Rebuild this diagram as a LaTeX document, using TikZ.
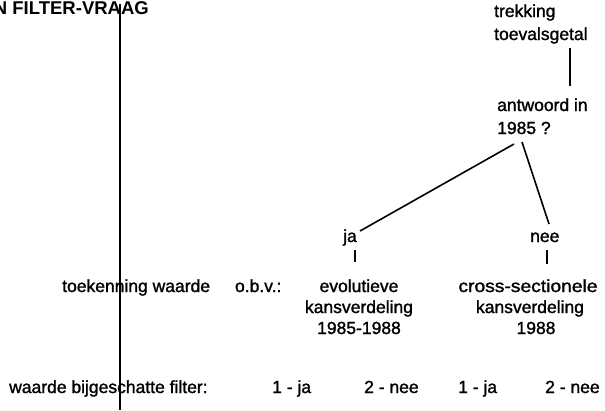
\documentclass[tikz,border=0pt]{standalone}
\usepackage{fontspec}
\setmainfont{Liberation Sans}[RawFeature={embolden=1.4}]
\newfontfamily\titlefont{Liberation Sans Bold}
\begin{document}
\begin{tikzpicture}[x=1pt,y=-1pt,
  txt/.style={inner sep=0pt,font=\fontsize{17.5}{22}\selectfont},
  ttl/.style={inner sep=0pt,font=\fontsize{18.5}{22}\titlefont},
  ln/.style={line width=1.6pt},
  tick/.style={line width=1.9pt}]
\useasboundingbox (0,0) rectangle (605,410);
\clip (0,0) rectangle (605,410);
% title and separator
\node[ttl,anchor=base east] (title) at (149,14) {N FILTER-VRAAG};
\coordinate (sepTop) at (120,4);
\coordinate (sepBot) at (120,410);
\draw[ln] (sepTop) -- (sepBot);
% top of the tree
\node[txt,anchor=base west] (trek) at (494,17) {trekking};
\node[txt,anchor=base west] (toev) at (494,40) {toevalsgetal};
\node[txt,anchor=base west] (antw) at (497,111) {antwoord in};
\node[txt,anchor=base west] (jaar) at (497,134) {1985 ?};
\coordinate (v1) at (570,48);
\coordinate (v2) at (570,86);
\draw[ln] (v1) -- (v2);
% branches
\node[txt,anchor=base west] (ja) at (343,242) {ja};
\node[txt,anchor=base west] (nee) at (530,242) {nee};
\coordinate (b1) at (514,144);
\coordinate (b2) at (522,142);
\coordinate (jaend) at (360,231);
\coordinate (neeend) at (549,224);
\draw[ln] (b1) -- (jaend);
\draw[ln] (b2) -- (neeend);
\coordinate (tj1) at (355,250);
\coordinate (tj2) at (355,262);
\coordinate (tn1) at (547,250);
\coordinate (tn2) at (547,264);
\draw[tick] (tj1) -- (tj2);
\draw[tick] (tn1) -- (tn2);
% assignment row
\node[txt,anchor=base west] (toek) at (62,292) {toekenning waarde\hspace{25pt}o.b.v.:};
\node[txt,anchor=base] (evo1) at (359,292) {evolutieve};
\node[txt,anchor=base] (evo2) at (359,313) {kansverdeling};
\node[txt,anchor=base] (evo3) at (359,334) {1985-1988};
\node[txt,anchor=base,xscale=1.1] (cs1) at (528,292) {cross-sectionele};
\node[txt,anchor=base] (cs2) at (530,313) {kansverdeling};
\node[txt,anchor=base] (cs3) at (536,334) {1988};
% bottom row
\node[txt,anchor=base west] (wbf) at (9,393) {waarde bijgeschatte filter:};
\node[txt,anchor=base west] (r1) at (272,393) {1 - ja};
\node[txt,anchor=base west] (r2) at (364,393) {2 - nee};
\node[txt,anchor=base west] (r3) at (458,393) {1 - ja};
\node[txt,anchor=base west] (r4) at (545,393) {2 - nee};
\end{tikzpicture}
\end{document}
